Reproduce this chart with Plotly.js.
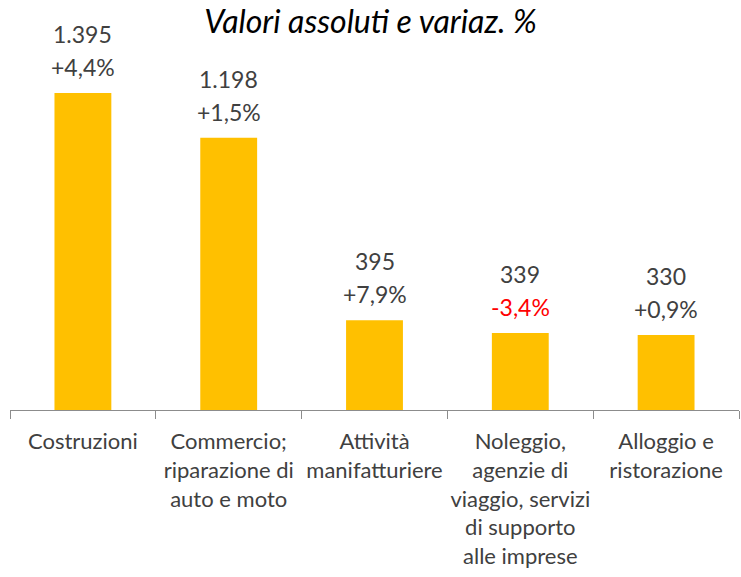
<!DOCTYPE html>
<html>
<head>
<meta charset="utf-8">
<script src="https://cdn.plot.ly/plotly-3.0.1.min.js"></script>
<style>
  html, body { margin: 0; padding: 0; background: #fff; }
  #chart { width: 741px; height: 577px; }
</style>
</head>
<body>
<div id="chart"></div>
<script>
// settori e valori (imprese) con variazione %
const categories = [
  "Costruzioni",
  "Commercio;<br>riparazione di<br>auto e moto",
  "Attività<br>manifatturiere",
  "Noleggio,<br>agenzie di<br>viaggio, servizi<br>di supporto<br>alle imprese",
  "Alloggio e<br>ristorazione"
];
const values = [1395, 1198, 395, 339, 330];
const valueLabels = ["1.395", "1.198", "395", "339", "330"];
const changeLabels = ["+4,4%", "+1,5%", "+7,9%", "-3,4%", "+0,9%"];
const changes = [4.4, 1.5, 7.9, -3.4, 0.9];

const FONT = "Lato, 'Open Sans', sans-serif";
const TXT = "#404040";

const annotations = [];
categories.forEach((c, i) => {
  annotations.push({
    x: c, y: values[i], xref: "x", yref: "y",
    text: valueLabels[i], showarrow: false,
    yanchor: "middle", yshift: 59,
    font: { family: FONT, size: 23, color: TXT }
  });
  annotations.push({
    x: c, y: values[i], xref: "x", yref: "y",
    text: changeLabels[i], showarrow: false,
    yanchor: "middle", yshift: 26,
    font: { family: FONT, size: 23, color: changes[i] < 0 ? "#FF0000" : TXT }
  });
});

Plotly.newPlot("chart", [{
  type: "bar",
  x: categories,
  y: values,
  marker: { color: "#FFC000" },
  hoverinfo: "skip"
}], {
  width: 741, height: 577,
  margin: { l: 10, r: 2, t: 60, b: 167 },
  bargap: 0.61,
  showlegend: false,
  title: {
    text: "<i>Valori assoluti e variaz. %</i>",
    font: { family: FONT, size: 32, color: "#000" },
    x: 0.5, xanchor: "center",
    y: 1 - 22/577, yref: "container", yanchor: "middle"
  },
  xaxis: {
    type: "category",
    showline: true, linecolor: "#8c8c8c", linewidth: 1,
    ticks: "outside", tickson: "boundaries", ticklen: 8, tickcolor: "#8c8c8c",
    tickangle: 0,
    ticklabelstandoff: 12,
    tickfont: { family: FONT, size: 22, color: TXT },
    showgrid: false
  },
  yaxis: {
    range: [0, 1540],
    visible: false, showgrid: false, zeroline: false
  },
  annotations,
  paper_bgcolor: "#fff",
  plot_bgcolor: "#fff"
}, { displayModeBar: false, staticPlot: true });
</script>
</body>
</html>
